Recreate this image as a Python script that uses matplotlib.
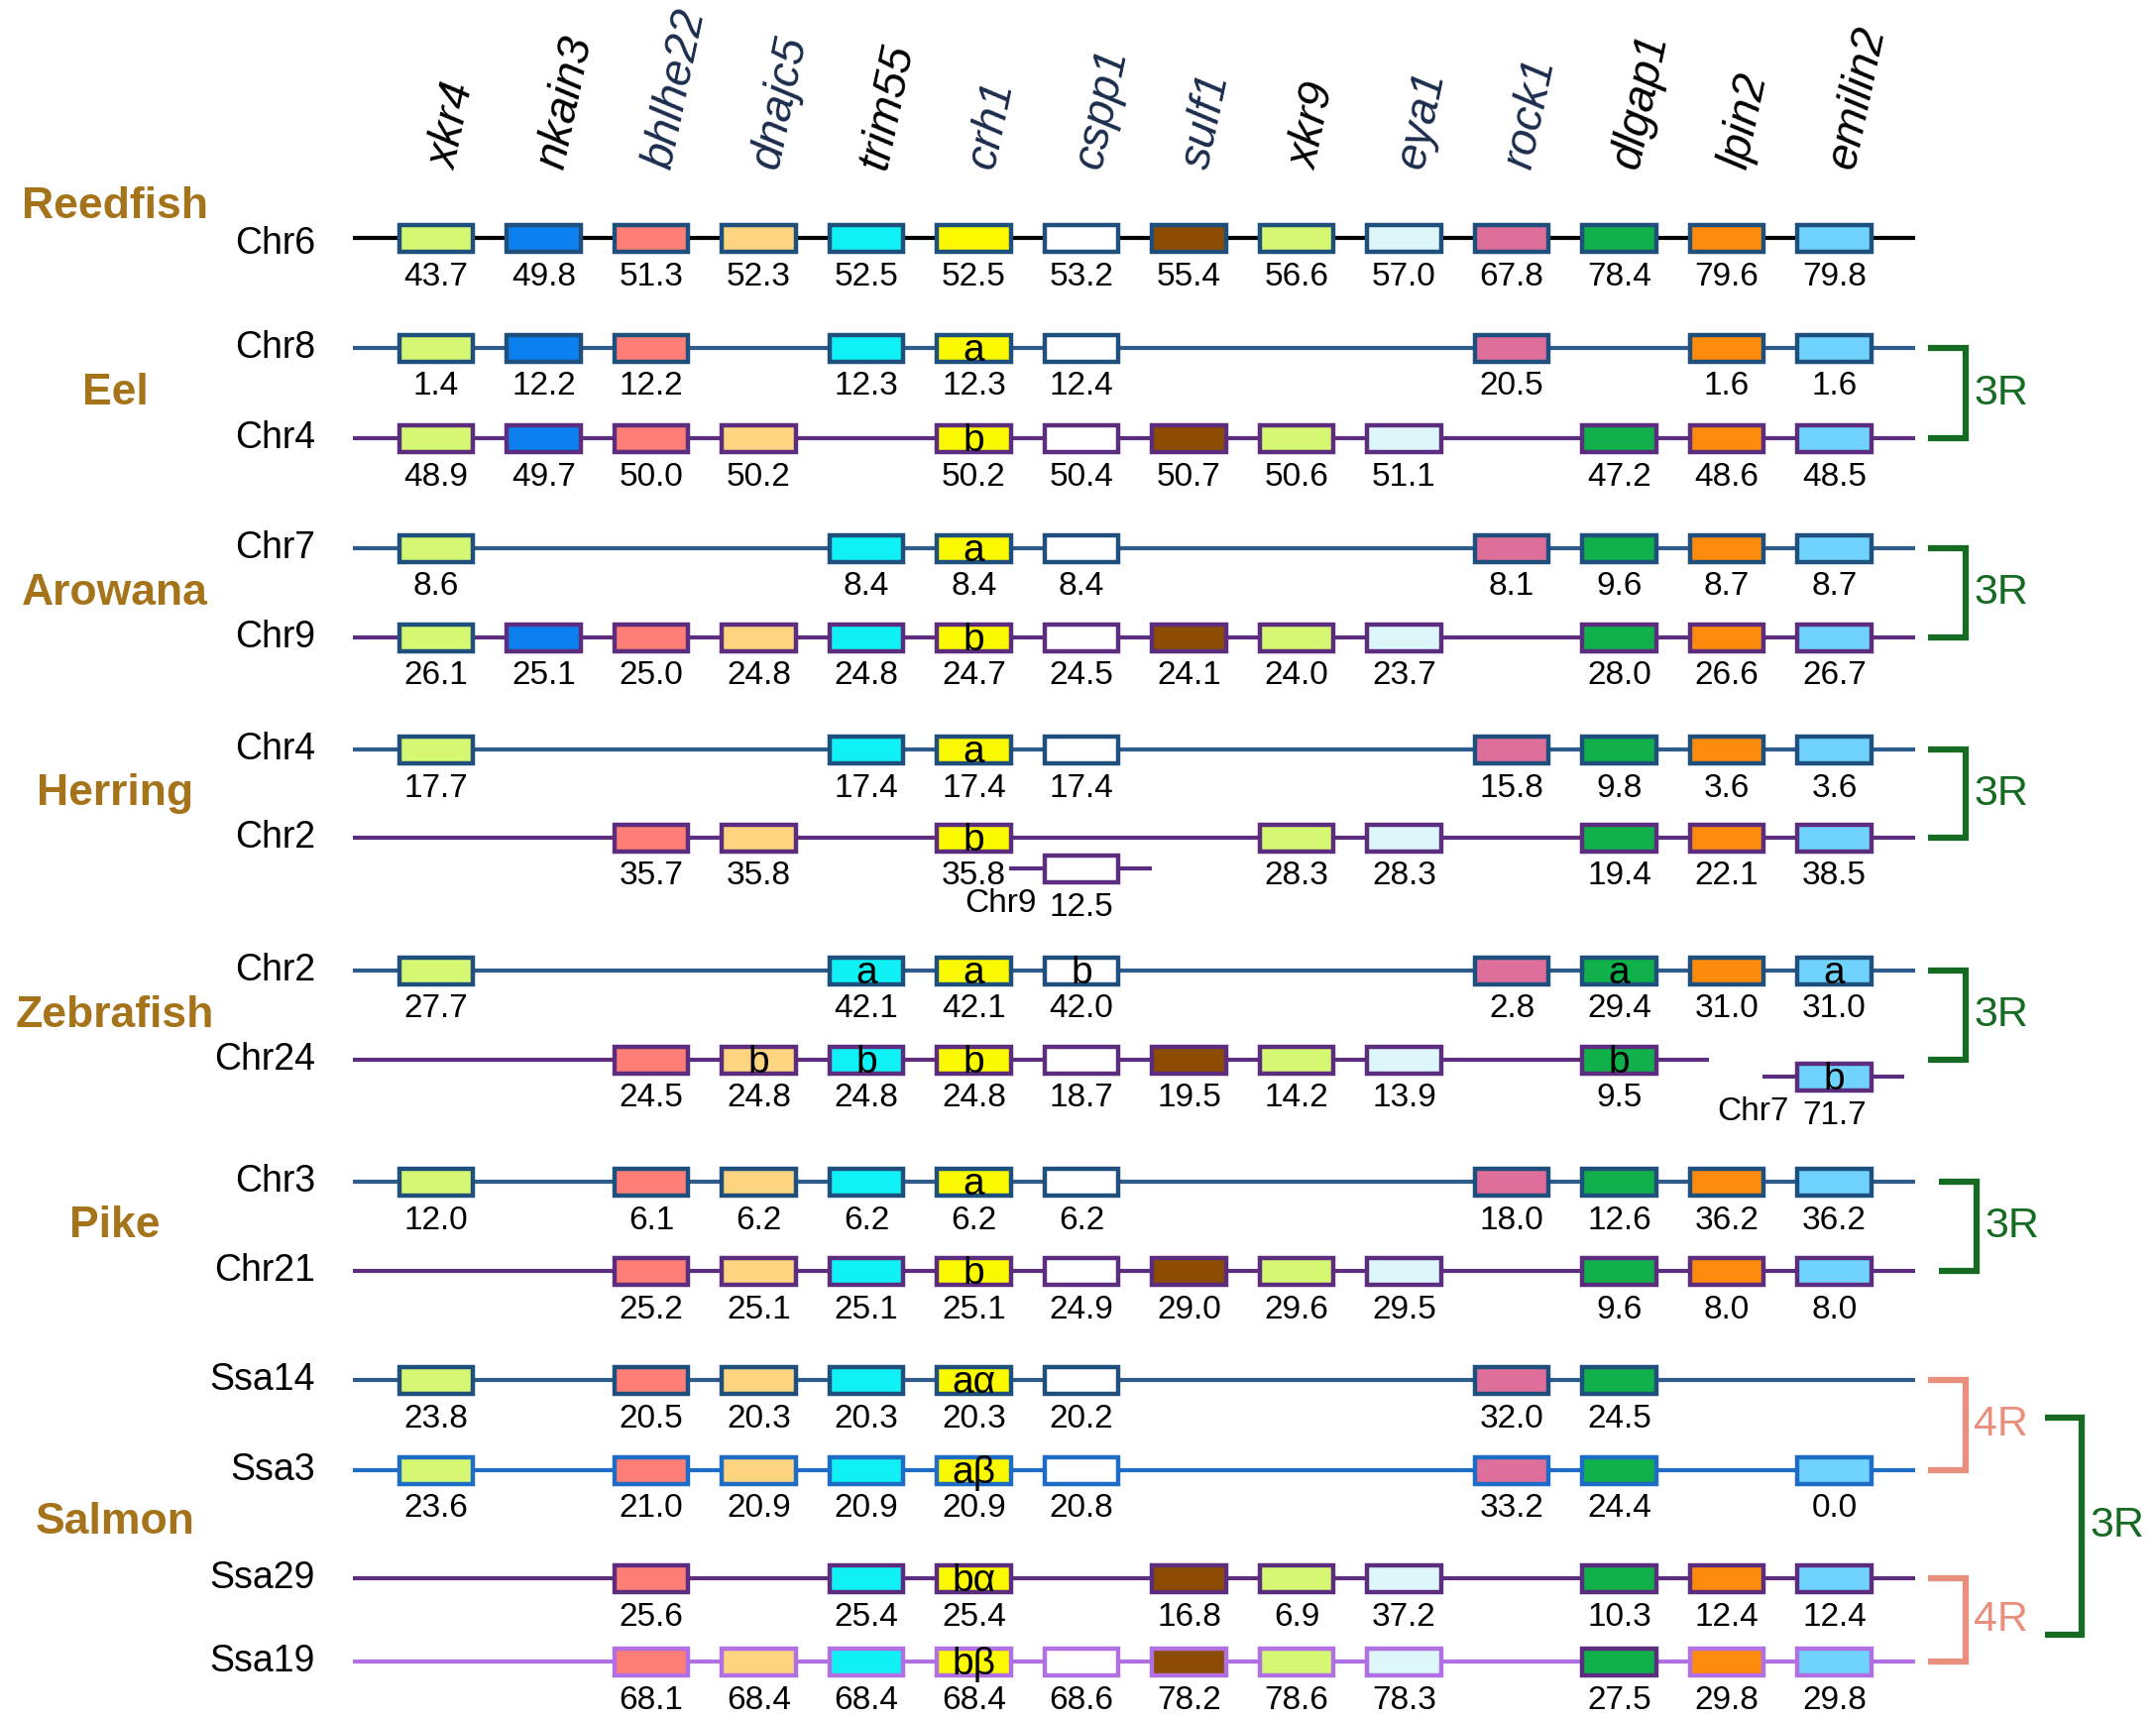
import numpy as np
import matplotlib.pyplot as plt
from matplotlib.patches import Rectangle

plt.rcParams['font.family'] = ['Liberation Sans', 'DejaVu Sans']

# ---- data -------------------------------------------------------------
genes = ['xkr4', 'nkain3', 'bhlhe22', 'dnajc5', 'trim55', 'crh1', 'cspp1',
         'sulf1', 'xkr9', 'eya1', 'rock1', 'dlgap1', 'lpin2', 'emilin2']
N = None

reedfish_chr6 = [43.7, 49.8, 51.3, 52.3, 52.5, 52.5, 53.2, 55.4, 56.6, 57.0, 67.8, 78.4, 79.6, 79.8]
eel_chr8 = [1.4, 12.2, 12.2, N, 12.3, 12.3, 12.4, N, N, N, 20.5, N, 1.6, 1.6]
eel_chr4 = [48.9, 49.7, 50.0, 50.2, N, 50.2, 50.4, 50.7, 50.6, 51.1, N, 47.2, 48.6, 48.5]
arowana_chr7 = [8.6, N, N, N, 8.4, 8.4, 8.4, N, N, N, 8.1, 9.6, 8.7, 8.7]
arowana_chr9 = [26.1, 25.1, 25.0, 24.8, 24.8, 24.7, 24.5, 24.1, 24.0, 23.7, N, 28.0, 26.6, 26.7]
herring_chr4 = [17.7, N, N, N, 17.4, 17.4, 17.4, N, N, N, 15.8, 9.8, 3.6, 3.6]
herring_chr2 = [N, N, 35.7, 35.8, N, 35.8, N, N, 28.3, 28.3, N, 19.4, 22.1, 38.5]
zebrafish_chr2 = [27.7, N, N, N, 42.1, 42.1, 42.0, N, N, N, 2.8, 29.4, 31.0, 31.0]
zebrafish_chr24 = [N, N, 24.5, 24.8, 24.8, 24.8, 18.7, 19.5, 14.2, 13.9, N, 9.5, N, N]
pike_chr3 = [12.0, N, 6.1, 6.2, 6.2, 6.2, 6.2, N, N, N, 18.0, 12.6, 36.2, 36.2]
pike_chr21 = [N, N, 25.2, 25.1, 25.1, 25.1, 24.9, 29.0, 29.6, 29.5, N, 9.6, 8.0, 8.0]
salmon_ssa14 = [23.8, N, 20.5, 20.3, 20.3, 20.3, 20.2, N, N, N, 32.0, 24.5, N, N]
salmon_ssa3 = [23.6, N, 21.0, 20.9, 20.9, 20.9, 20.8, N, N, N, 33.2, 24.4, N, 0.0]
salmon_ssa29 = [N, N, 25.6, N, 25.4, 25.4, N, 16.8, 6.9, 37.2, N, 10.3, 12.4, 12.4]
salmon_ssa19 = [N, N, 68.1, 68.4, 68.4, 68.4, 68.6, 78.2, 78.6, 78.3, N, 27.5, 29.8, 29.8]

# paralog tags written inside boxes
eel_chr8_tags = {'crh1': 'a'}
eel_chr4_tags = {'crh1': 'b'}
arowana_chr7_tags = {'crh1': 'a'}
arowana_chr9_tags = {'crh1': 'b'}
herring_chr4_tags = {'crh1': 'a'}
herring_chr2_tags = {'crh1': 'b'}
zebrafish_chr2_tags = {'trim55': 'a', 'crh1': 'a', 'cspp1': 'b', 'dlgap1': 'a', 'emilin2': 'a'}
zebrafish_chr24_tags = {'dnajc5': 'b', 'trim55': 'b', 'crh1': 'b', 'dlgap1': 'b'}
pike_chr3_tags = {'crh1': 'a'}
pike_chr21_tags = {'crh1': 'b'}
salmon_ssa14_tags = {'crh1': 'aα'}
salmon_ssa3_tags = {'crh1': 'aβ'}
salmon_ssa29_tags = {'crh1': 'bα'}
salmon_ssa19_tags = {'crh1': 'bβ'}

# genes found on another chromosome: (gene, chromosome, position, tag)
herring_chr2_moved = ('cspp1', 'Chr9', 12.5, '')
zebrafish_chr24_moved = ('emilin2', 'Chr7', 71.7, 'b')

species = ['Reedfish', 'Eel', 'Arowana', 'Herring', 'Zebrafish', 'Pike', 'Salmon']

rows = [
    ('Reedfish', 'Chr6', reedfish_chr6, {}, 'ref'),
    ('Eel', 'Chr8', eel_chr8, eel_chr8_tags, 'up'),
    ('Eel', 'Chr4', eel_chr4, eel_chr4_tags, 'low'),
    ('Arowana', 'Chr7', arowana_chr7, arowana_chr7_tags, 'up'),
    ('Arowana', 'Chr9', arowana_chr9, arowana_chr9_tags, 'low'),
    ('Herring', 'Chr4', herring_chr4, herring_chr4_tags, 'up'),
    ('Herring', 'Chr2', herring_chr2, herring_chr2_tags, 'low'),
    ('Zebrafish', 'Chr2', zebrafish_chr2, zebrafish_chr2_tags, 'up'),
    ('Zebrafish', 'Chr24', zebrafish_chr24, zebrafish_chr24_tags, 'low'),
    ('Pike', 'Chr3', pike_chr3, pike_chr3_tags, 'up'),
    ('Pike', 'Chr21', pike_chr21, pike_chr21_tags, 'low'),
    ('Salmon', 'Ssa14', salmon_ssa14, salmon_ssa14_tags, 'up'),
    ('Salmon', 'Ssa3', salmon_ssa3, salmon_ssa3_tags, 'up2'),
    ('Salmon', 'Ssa29', salmon_ssa29, salmon_ssa29_tags, 'low'),
    ('Salmon', 'Ssa19', salmon_ssa19, salmon_ssa19_tags, 'low2'),
]
moved = {6: herring_chr2_moved, 8: zebrafish_chr24_moved}

# duplication brackets: (first row, last row, label)
brackets = [(1, 2, '3R'), (3, 4, '3R'), (5, 6, '3R'), (7, 8, '3R'), (9, 10, '3R'),
            (11, 12, '4R'), (13, 14, '4R')]

# ---- style / layout ---------------------------------------------------
gene_colors = ['#d5f771', '#0d80ef', '#fc7e77', '#fdd47f', '#10f1f6', '#fbf900', '#ffffff',
               '#8c4c03', '#d5f771', '#dcf6fa', '#de6f9b', '#10b14b', '#fe8b0b', '#70d3fd']
gene_label_colors = ['#000000', '#000000', '#1b2c4c', '#1b2c4c', '#000000', '#1b2c4c', '#1b2c4c',
                     '#1b2c4c', '#000000', '#1b2c4c', '#1b2c4c', '#000000', '#000000', '#000000']
line_colors = {'ref': '#000000', 'up': '#2c5b8c', 'up2': '#1f6cc7',
               'low': '#5c2d7e', 'low2': '#b170e2'}
edge_colors = {'ref': '#1f4f7d', 'up': '#1f4f7d', 'up2': '#1f6cc7',
               'low': '#5c2d7e', 'low2': '#b170e2'}
edge_override = {(4, 'xkr4'): '#1f4f7d', (14, 'dlgap1'): '#5c2d7e'}
GOLD = '#a5741a'
GREEN = '#156b22'
SALMON = '#e88f7e'

W, H, DPI = 2175, 1736, 100
X0, DX = 440, 108.5          # pixel x of the first gene column and column pitch
row_y = [240, 351, 442, 553, 643, 756, 845, 979, 1069, 1192, 1282, 1392, 1483, 1592, 1676]
NUM_DY = 39


def px(x):
    return (x - X0) / DX


line_start, line_end = px(356), px(1932)
line_end_override = {8: px(1724)}
box_w, box_h = 0.69, 27

fig = plt.figure(figsize=(W / DPI, H / DPI), dpi=DPI)
ax = fig.add_axes([0, 0, 1, 1])
ax.set_xlim(px(0), px(W))
ax.set_ylim(H, 0)
ax.axis('off')

# gene names
for i, g in enumerate(genes):
    ax.text(i + 0.18, 172, g, rotation=78, rotation_mode='anchor', ha='left',
            va='baseline', style='italic', fontsize=33, color=gene_label_colors[i])


def draw_box(i, y, gene, ec, tag):
    ax.add_patch(Rectangle((i - box_w / 2, y - box_h / 2), box_w, box_h,
                           facecolor=gene_colors[genes.index(gene)], edgecolor=ec,
                           linewidth=3.2, zorder=2))
    if tag:
        ax.text(i, y + 3, tag, ha='center', va='center', fontsize=28, zorder=3)


for r, (sp, chrom, vals, tags, st) in enumerate(rows):
    y = row_y[r]
    ax.plot([line_start, line_end_override.get(r, line_end)], [y, y],
            color=line_colors[st], lw=3, solid_capstyle='butt', zorder=1)
    ax.text(px(318), y + (6 if r == 0 else 0), chrom, ha='right', va='center', fontsize=27)
    for i, v in enumerate(vals):
        if v is None:
            continue
        ec = edge_override.get((r, genes[i]), edge_colors[st])
        draw_box(i, y, genes[i], ec, tags.get(genes[i], ''))
        ax.text(i, y + NUM_DY, f'{v:.1f}', ha='center', va='center', fontsize=24)
    if r in moved:
        gene, other, v, tag = moved[r]
        i = genes.index(gene)
        dy = 31 if r == 6 else 17
        ys = y + dy
        ax.plot([i - 0.67, i + 0.65], [ys, ys], color=line_colors[st], lw=3,
                solid_capstyle='butt', zorder=1)
        draw_box(i, ys, gene, edge_colors[st], tag)
        ax.text(i, ys + NUM_DY, f'{v:.1f}', ha='center', va='center', fontsize=24)
        ax.text(i - 0.42, ys + NUM_DY - 3, other, ha='right', va='center', fontsize=24)

# species names
for sp in species:
    idx = [r for r, row in enumerate(rows) if row[0] == sp]
    yc = 208 if sp == 'Reedfish' else np.mean([row_y[r] for r in idx])
    ax.text(px(116), yc, sp, ha='center', va='center', fontsize=32,
            fontweight='bold', color=GOLD)


def bracket(x_arm, x_bar, y0, y1, color, label, x_text):
    ax.plot([x_arm, x_bar, x_bar, x_arm], [y0, y0, y1, y1], color=color, lw=4.5,
            solid_joinstyle='miter', solid_capstyle='butt')
    ax.text(x_text, (y0 + y1) / 2, label, ha='left', va='center', fontsize=31, color=color)


for top, bot, lab in brackets:
    color = GREEN if lab == '3R' else SALMON
    shift = 11 if top == 9 else 0
    bracket(px(1945 + shift), px(1983 + shift), row_y[top], row_y[bot], color, lab,
            px(1991 + shift))

# salmon: older 3R duplication spanning both 4R pairs
y_top = np.mean(row_y[11:13]) - 8
y_bot = np.mean(row_y[13:15]) + 15
bracket(px(2063), px(2100), y_top, y_bot, GREEN, '3R', px(2108))

fig.savefig('out.png', dpi=DPI)
